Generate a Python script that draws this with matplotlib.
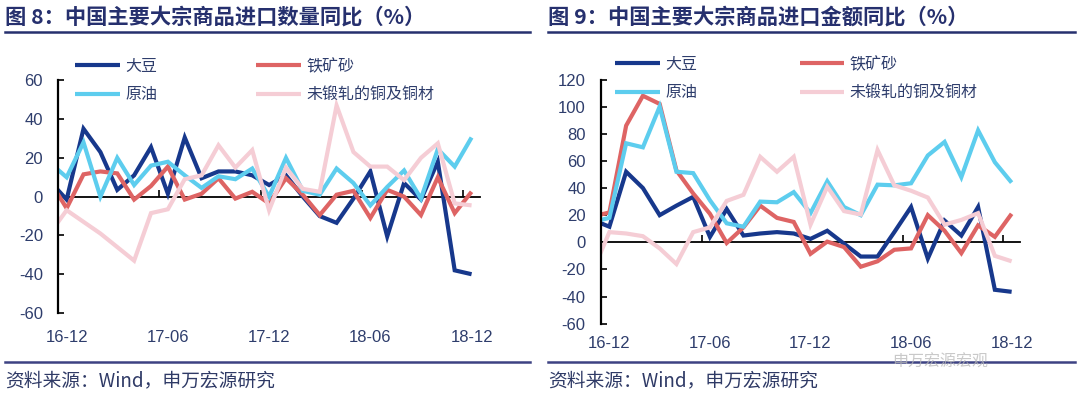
import matplotlib
matplotlib.use('Agg')
import matplotlib.pyplot as plt
from matplotlib.lines import Line2D
from matplotlib.font_manager import FontProperties
import numpy as np

# ---------------- data ----------------
months = ['16-11', '16-12', '17-01', '17-02', '17-03', '17-04', '17-05', '17-06',
          '17-07', '17-08', '17-09', '17-10', '17-11', '17-12', '18-01', '18-02',
          '18-03', '18-04', '18-05', '18-06', '18-07', '18-08', '18-09', '18-10',
          '18-11', '18-12']
tick_labels = ['16-12', '17-06', '17-12', '18-06', '18-12']

series_names = ['大豆', '铁矿砂', '原油', '未锻轧的铜及铜材']

# Figure 8: import volume yoy (%)
soy_qty = [8, -1.5, 35, 23, 3.5, 11, 25.5, 1.5, 30.5, 9.5, 13, 13, 11, 6, 11, 0,
           -10, -13.5, -1, 13, -20.5, 7, -1.5, 18, -38, -40]
iron_qty = [8, -6, 11.5, 13, 12, -1.5, 5.5, 15.5, -1.5, 1.5, 9.5, -1, 2.5, -3.5,
            9.5, 1, -9.5, 1, 3, -11, 3.5, 0, -9.5, 10, -8.5, 2.5]
crude_qty = [17.5, 10, 28, 0, 20, 6, 16, 18, 11, 4.5, 10.5, 9, 14.5, 0, 20, 3, 1,
             14.5, 7, -4.5, 5, 13.5, -1, 24.5, 15.5, 30.5]
copper_qty = [-19, -7, -13, -19, -26, -33, -8.5, -6.5, 9, 11, 26.5, 15, 24, -7, 15,
              4, 2.5, 47, 23, 15.5, 15.5, 8.5, 20, 27.5, -3.5, -4.5]

# Figure 9: import value yoy (%)
soy_val = [16.5, 11.5, 52, 40, 20, 27, 33.5, 4, 24.5, 5, 6.5, 7.5, 6.5, 2.5, 8.5,
           -1, -10.5, -10.5, 7.5, 26, -12, 16, 5, 26, -35, -36.5]
iron_val = [19, 22, 86, 108, 102, 53, 36, 21, -0.5, 11, 27, 18, 15, -8.5, 0.5,
            -3.5, -18, -14, -5.5, -4.5, 20, 8.5, -8, 12.5, 4, 21]
crude_val = [15, 18, 73, 70, 100, 52, 51, 31, 14, 11.5, 30, 29.5, 37, 21.5, 45,
             26, 20, 42.5, 42, 43.5, 64, 74, 48, 82.5, 59, 44]
copper_val = [-21.5, 7.5, 6.5, 4.5, -4.5, -16, 7.5, 11, 30.5, 35, 63, 52, 63, 13,
              41, 23, 20.5, 68, 42, 38, 33, 13, 16.5, 21.5, -10, -14]

# ---------------- style ----------------
colors = ['#17388C', '#DE6464', '#5DCDEE', '#F5CDD5']
navy = '#26306E'
tick_color = '#2E3D6C'
CJK = ['Noto Sans CJK SC', 'DejaVu Sans']
LAT = ['Liberation Sans', 'Noto Sans CJK SC', 'DejaVu Sans']

W, H = 1080, 395
fig = plt.figure(figsize=(W / 100, H / 100), dpi=100)
fig.patch.set_facecolor('white')


def px_rect(x0, y0, x1, y1):
    return [x0 / W, 1 - y1 / H, (x1 - x0) / W, (y1 - y0) / H]


pos = np.arange(len(months)) - months.index('16-12')
label_pos = [int(pos[months.index(m)]) for m in tick_labels]


def draw_panel(rect, data, ylim, yticks, legend_anchor, label_pad, colspace):
    ax = fig.add_axes(rect)
    ax.set_facecolor('none')
    handles = []
    for vals, c, name in zip(data, colors, series_names):
        h, = ax.plot(pos, vals, color=c, lw=3.0, solid_joinstyle='miter',
                     solid_capstyle='butt', label=name)
        handles.append(h)
    ax.set_xlim(-0.5, 24.5)
    ax.set_ylim(*ylim)
    ax.set_yticks(yticks)
    ax.set_yticklabels([str(v) for v in yticks])
    for s in ['top', 'right']:
        ax.spines[s].set_visible(False)
    ax.spines['left'].set_color('black')
    ax.spines['left'].set_linewidth(1.6)
    ax.spines['bottom'].set_position(('data', 0))
    ax.spines['bottom'].set_color('black')
    ax.spines['bottom'].set_linewidth(1.3)
    ax.spines['bottom'].set_zorder(0.5)
    ax.set_xticks([p - 0.5 for p in label_pos[1:]])
    ax.set_xticklabels([])
    ax.tick_params(axis='x', direction='in', length=5, width=1.2, color='black')
    ax.tick_params(axis='y', direction='in', length=4, width=1.2, color='black',
                   pad=11, labelsize=12, labelcolor=tick_color)
    for t in ax.get_yticklabels():
        t.set_family(LAT)
    sec = ax.secondary_xaxis('bottom')
    sec.set_xticks(label_pos)
    sec.set_xticklabels(tick_labels)
    sec.spines['bottom'].set_visible(False)
    sec.tick_params(length=0, pad=label_pad, labelsize=12, labelcolor=tick_color)
    for t in sec.get_xticklabels():
        t.set_family(LAT)
    order = [0, 2, 1, 3]
    leg = ax.legend([handles[i] for i in order], [series_names[i] for i in order],
                    ncol=2, loc='upper left', bbox_to_anchor=legend_anchor,
                    bbox_transform=fig.transFigure, frameon=False,
                    handlelength=2.8, handletextpad=0.35, columnspacing=colspace,
                    labelspacing=0.7, borderpad=0, borderaxespad=0,
                    prop=FontProperties(family='Noto Sans CJK SC', size=11.5))
    for t in leg.get_texts():
        t.set_color(tick_color)
    return ax


axL = draw_panel(px_rect(58.2, 80.3, 480, 313),
                 [soy_qty, iron_qty, crude_qty, copper_qty],
                 (-60, 60), list(range(-60, 61, 20)),
                 (75 / W, 1 - 58 / H), 12, 6.2)
axR = draw_panel(px_rect(601, 79.5, 1020, 323.7),
                 [soy_val, iron_val, crude_val, copper_val],
                 (-60, 120), list(range(-60, 121, 20)),
                 (615 / W, 1 - 56 / H), 9, 6.4)

# ---------------- titles, rules, source ----------------
fig.text(5 / W, 1 - 17 / H, '图 8：中国主要大宗商品进口数量同比（%）',
         fontsize=15.3, fontweight='bold', color=navy, va='center', ha='left',
         family=CJK)
fig.text(548 / W, 1 - 17 / H, '图 9：中国主要大宗商品进口金额同比（%）',
         fontsize=15.3, fontweight='bold', color=navy, va='center', ha='left',
         family=CJK)
for x0, x1 in [(5, 530), (548, 1075)]:
    fig.add_artist(Line2D([x0 / W, x1 / W], [1 - 31.5 / H, 1 - 31.5 / H],
                          color=navy, lw=1.8, transform=fig.transFigure))
    fig.add_artist(Line2D([x0 / W, x1 / W], [1 - 361.5 / H, 1 - 361.5 / H],
                          color='#3D4283', lw=1.8, transform=fig.transFigure))
for x0 in [5, 548]:
    fig.text(x0 / W, 1 - 381 / H, '资料来源：Wind，申万宏源研究', fontsize=13.5,
             color='#2F3A66', va='center', ha='left', family=CJK)

# watermark
fig.text(892 / W, 1 - 362 / H, '申万宏源宏观', fontsize=11.5, color='#B8B8B8',
         alpha=0.75, va='center', ha='left', family=CJK, style='italic')

fig.savefig('out.png', dpi=100, facecolor='white')
